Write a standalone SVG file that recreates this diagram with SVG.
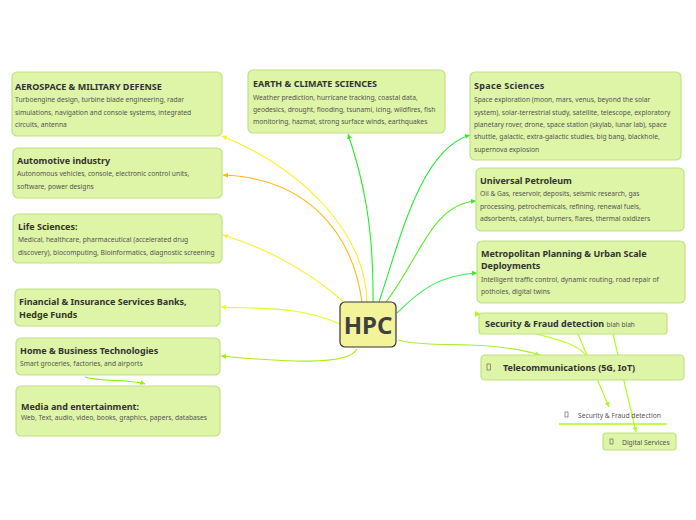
<svg xmlns="http://www.w3.org/2000/svg" width="696" height="520" viewBox="0 0 696 520">
<defs>
<style>
.node{fill:#def4a6;stroke:#c2e283;stroke-width:1.2}
.t{font-family:"Noto Sans","Open Sans",sans-serif;font-weight:bold;font-size:9px;fill:#333}
.b{font-family:"Noto Sans","Open Sans",sans-serif;font-size:6.7px;fill:#555}
.c{fill:none;stroke-width:1.1}
.tofu{fill:none;stroke:#555;stroke-width:0.6}
</style>
<marker id="ay" markerWidth="6" markerHeight="6" refX="5" refY="3" orient="auto" markerUnits="userSpaceOnUse"><path d="M0,0.5 L5,3 L0,5.5 z" fill="#ffee22"/></marker>
<marker id="ao" markerWidth="6" markerHeight="6" refX="5" refY="3" orient="auto" markerUnits="userSpaceOnUse"><path d="M0,0.5 L5,3 L0,5.5 z" fill="#ffbb11"/></marker>
<marker id="ayl" markerWidth="6" markerHeight="6" refX="5" refY="3" orient="auto" markerUnits="userSpaceOnUse"><path d="M0,0.5 L5,3 L0,5.5 z" fill="#eeff22"/></marker>
<marker id="alg" markerWidth="6" markerHeight="6" refX="5" refY="3" orient="auto" markerUnits="userSpaceOnUse"><path d="M0,0.5 L5,3 L0,5.5 z" fill="#99ee11"/></marker>
<marker id="ag" markerWidth="6" markerHeight="6" refX="5" refY="3" orient="auto" markerUnits="userSpaceOnUse"><path d="M0,0.5 L5,3 L0,5.5 z" fill="#33ee22"/></marker>
<marker id="al" markerWidth="6" markerHeight="6" refX="5" refY="3" orient="auto" markerUnits="userSpaceOnUse"><path d="M0,0.5 L5,3 L0,5.5 z" fill="#aaff11"/></marker>
</defs>
<rect width="696" height="520" fill="#fff"/>

<g id="connectors">
<path class="c" d="M367,302 C365,230 300,168 222,136" stroke="#ffee22" marker-end="url(#ay)"/>
<path class="c" d="M362,302 C352,230 305,178 223,175" stroke="#ffbb11" marker-end="url(#ao)"/>
<path class="c" d="M345,303 C310,272 272,250 223,235" stroke="#ffee33" marker-end="url(#ay)"/>
<path class="c" d="M340,324 C300,306 262,309 221,307" stroke="#ddff22" marker-end="url(#ayl)"/>
<path class="c" d="M357,349 C348,366 285,362 221,356" stroke="#aaee11" marker-end="url(#alg)"/>
<path class="c" d="M85,377 C100,382 130,379 145,384" stroke="#88ee00" marker-end="url(#alg)"/>
<path class="c" d="M373,302 C374,225 362,175 348,134" stroke="#22ee22" marker-end="url(#ag)"/>
<path class="c" d="M379,302 C400,240 420,150 470,135" stroke="#22ee33" marker-end="url(#ag)"/>
<path class="c" d="M386,302 C420,258 432,204 476,201" stroke="#55ee22" marker-end="url(#ag)"/>
<path class="c" d="M397,313 C420,290 440,275 477,273" stroke="#33ee55" marker-end="url(#ag)"/>
<path class="c" d="M398,340 C420,346 450,344 470,345 C500,346 520,349 540,355" stroke="#aaee33" marker-end="url(#al)"/>
<path d="M475,311 L480,314 L475,317 z" fill="#aaff11"/>
<path class="c" d="M537,334 C560,340 580,345 587,357" stroke="#bbff22"/>
<path class="c" d="M578,334 L609,407" stroke="#aaff11" marker-end="url(#al)"/>
<path class="c" d="M613,334 L636,432" stroke="#aaff11" marker-end="url(#al)"/>
<line x1="559" y1="424" x2="667" y2="424" stroke="#aaff11" stroke-width="1.5"/>
</g>

<g id="hpc">
<rect x="340" y="302" width="56" height="45" rx="5" fill="#f3f39a" stroke="#333" stroke-width="1.2"/>
<text x="368" y="334" text-anchor="middle" font-family="Noto Sans, Open Sans, sans-serif" font-weight="bold" font-size="24" fill="#404040">HPC</text>
</g>

<g id="aerospace">
<rect class="node" x="12" y="72" width="210" height="64" rx="5"/>
<text class="t" x="15" y="90">AEROSPACE &amp; MILITARY DEFENSE</text>
<text class="b" x="15" y="102">Turboengine design, turbine blade engineering, radar</text>
<text class="b" x="15" y="115">simulations, navigation and console systems, integrated</text>
<text class="b" x="15" y="127">circuits, antenna</text>
</g>

<g id="automotive">
<rect class="node" x="13" y="148" width="209" height="50" rx="5"/>
<text class="t" x="17" y="164">Automotive industry</text>
<text class="b" x="17" y="176">Autonomous vehicles, console, electronic control units,</text>
<text class="b" x="17" y="189">software, power designs</text>
</g>

<g id="life">
<rect class="node" x="13" y="214" width="209" height="49" rx="5"/>
<text class="t" x="18" y="230">Life Sciences:</text>
<text class="b" x="18" y="242">Medical, healthcare,  pharmaceutical (accelerated drug</text>
<text class="b" x="18" y="255">discovery),  biocomputing, Bioinformatics,  diagnostic screening</text>
</g>

<g id="financial">
<rect class="node" x="15" y="289" width="205" height="37" rx="5"/>
<text class="t" x="19" y="305">Financial &amp; Insurance Services Banks,</text>
<text class="t" x="19" y="318">Hedge Funds</text>
</g>

<g id="home">
<rect class="node" x="16" y="338" width="204" height="37" rx="5"/>
<text class="t" x="20" y="354">Home &amp; Business Technologies</text>
<text class="b" x="20" y="366">Smart groceries, factories, and airports</text>
</g>

<g id="media">
<rect class="node" x="16" y="386" width="204" height="50" rx="5"/>
<text class="t" x="21" y="410">Media and entertainment:</text>
<text class="b" x="21" y="420">Web, Text, audio, video, books, graphics, papers, databases</text>
</g>

<g id="earth">
<rect class="node" x="248" y="70" width="197" height="63" rx="5" stroke="#b4d86e"/>
<text class="t" x="253" y="87">EARTH  &amp; CLIMATE SCIENCES</text>
<text class="b" x="253" y="100">Weather prediction, hurricane tracking, coastal data,</text>
<text class="b" x="253" y="112">geodesics, drought, flooding, tsunami, icing, wildfires, fish</text>
<text class="b" x="253" y="124">monitoring, hazmat, strong surface winds, earthquakes</text>
</g>

<g id="space">
<rect class="node" x="470" y="72" width="211" height="88" rx="5"/>
<text class="t" x="474" y="89" font-size="9.5" letter-spacing="0.3">Space Sciences</text>
<text class="b" x="474" y="102">Space exploration (moon, mars, venus, beyond the  solar</text>
<text class="b" x="474" y="115">system), solar-terrestrial study, satellite, telescope, exploratory</text>
<text class="b" x="474" y="127">planetary rover, drone, space station (skylab, lunar lab), space</text>
<text class="b" x="474" y="139">shuttle, galactic, extra-galactic studies, big bang, blackhole,</text>
<text class="b" x="474" y="152">supernova explosion</text>
</g>

<g id="petroleum">
<rect class="node" x="476" y="168" width="208" height="63" rx="5"/>
<text class="t" x="480" y="184">Universal Petroleum</text>
<text class="b" x="480" y="196">Oil &amp; Gas, reservoir, deposits, seismic research, gas</text>
<text class="b" x="480" y="209">processing, petrochemicals, refining, renewal fuels,</text>
<text class="b" x="480" y="221">adsorbents, catalyst, burners, flares, thermal oxidizers</text>
</g>

<g id="metro">
<rect class="node" x="477" y="241" width="208" height="62" rx="5"/>
<text class="t" x="481" y="257">Metropolitan Planning &amp; Urban Scale</text>
<text class="t" x="481" y="269">Deployments</text>
<text class="b" x="481" y="282">Intelligent traffic control,  dynamic routing, road repair of</text>
<text class="b" x="481" y="294">potholes, digital twins</text>
</g>

<g id="security">
<rect class="node" x="479" y="313" width="188" height="21" rx="3" stroke="#a8d060"/>
<text class="t" x="485" y="327">Security &amp; Fraud detection <tspan font-weight="normal" font-size="6.5" fill="#555">blah blah</tspan></text>
</g>

<g id="telecom">
<rect class="node" x="481" y="355" width="203" height="25" rx="4"/>
<rect class="tofu" x="487" y="364" width="3.5" height="6"/>
<text class="t" x="503" y="371">Telecommunications (5G, IoT)</text>
</g>

<g id="security2">
<rect class="tofu" x="565" y="412" width="3" height="5"/>
<text class="b" x="578" y="418">Security &amp; Fraud detection</text>
</g>

<g id="digital">
<rect class="node" x="603" y="433" width="73" height="17" rx="3" stroke="#a8d060"/>
<rect class="tofu" x="610" y="439" width="3" height="5"/>
<text class="b" x="622" y="445">Digital Services</text>
</g>
</svg>
